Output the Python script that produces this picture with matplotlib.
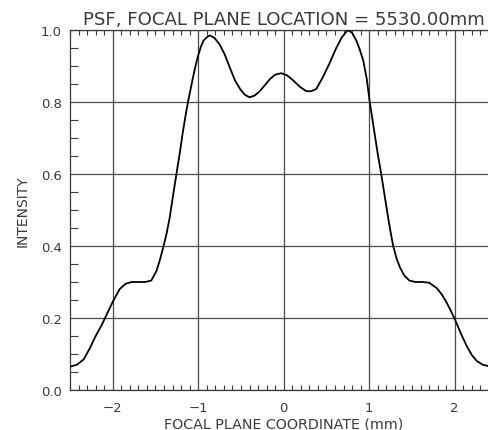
import numpy as np
import matplotlib
matplotlib.use("Agg")
from matplotlib import pyplot as plt
from matplotlib.ticker import MultipleLocator

# PSF profile across the focal plane
coord = [-2.50, -2.42, -2.34, -2.27, -2.20, -2.13, -2.06, -2.00, -1.92, -1.85,
         -1.78, -1.70, -1.62, -1.55, -1.49, -1.45, -1.41, -1.37, -1.333, -1.295,
         -1.255, -1.215, -1.178, -1.15, -1.12, -1.09, -1.06, -1.03, -1.00, -0.97,
         -0.94, -0.90, -0.866, -0.81, -0.75, -0.69, -0.63, -0.57, -0.51, -0.455,
         -0.40, -0.34, -0.28, -0.22, -0.16, -0.10, -0.03, 0.04, 0.11, 0.19,
         0.265, 0.32, 0.38, 0.46, 0.54, 0.61, 0.68, 0.75, 0.80, 0.85,
         0.89, 0.93, 0.97, 1.006, 1.035, 1.064, 1.10, 1.14, 1.18, 1.22,
         1.25, 1.28, 1.32, 1.36, 1.41, 1.47, 1.54, 1.62, 1.70, 1.79,
         1.85, 1.90, 1.95, 2.00, 2.07, 2.14, 2.20, 2.26, 2.33, 2.40,
         2.50]
intensity = [0.065, 0.070, 0.085, 0.115, 0.150, 0.180, 0.215, 0.245, 0.280, 0.295,
             0.300, 0.300, 0.300, 0.304, 0.330, 0.360, 0.396, 0.435, 0.480, 0.540,
             0.600, 0.660, 0.720, 0.760, 0.800, 0.835, 0.870, 0.902, 0.930, 0.953,
             0.970, 0.980, 0.985, 0.978, 0.960, 0.932, 0.895, 0.860, 0.836, 0.820,
             0.813, 0.818, 0.830, 0.847, 0.864, 0.876, 0.880, 0.874, 0.860, 0.842,
             0.830, 0.830, 0.836, 0.870, 0.910, 0.948, 0.980, 1.000, 0.992, 0.970,
             0.945, 0.915, 0.865, 0.800, 0.755, 0.710, 0.655, 0.600, 0.540, 0.480,
             0.438, 0.400, 0.365, 0.340, 0.318, 0.304, 0.300, 0.300, 0.298, 0.283,
             0.265, 0.245, 0.222, 0.197, 0.158, 0.122, 0.097, 0.080, 0.070, 0.066,
             0.065]

x_major = [-2, -1, 0, 1, 2]
y_major = [0.0, 0.2, 0.4, 0.6, 0.8, 1.0]
y_labels = ["0.0", "0.2", "0.4", "0.6", "0.8", "1.0"]

ink = "#3a3a3a"

fig = plt.figure(figsize=(4.89, 4.31), dpi=100)
ax = fig.add_axes([70 / 489, 40 / 431, 427.5 / 489, 360 / 431])

ax.plot(coord, intensity, color="black", linewidth=1.3, zorder=3)

ax.set_xlim(-2.5, 2.5)
ax.set_ylim(0.0, 1.0)

# major positions become full grid lines, minor ones are short ticks
ax.set_xticks(x_major)
ax.set_xticklabels(["\u22122", "\u22121", "0", "1", "2"])
ax.set_yticks(y_major)
ax.set_yticklabels(y_labels)
ax.xaxis.set_minor_locator(MultipleLocator(0.1))
ax.yaxis.set_minor_locator(MultipleLocator(0.05))
ax.grid(True, which="major", color="#4a4a4a", linewidth=0.9)

ax.tick_params(which="major", length=0, labelsize=9.5, colors=ink, pad=6)
ax.tick_params(axis="x", which="major", pad=8)
ax.tick_params(axis="x", which="minor", direction="in", length=3.5,
               width=0.8, color=ink, top=True, bottom=True)
ax.tick_params(axis="y", which="minor", direction="in", length=6,
               width=0.8, color=ink, left=True, right=False)

for side in ["left", "bottom", "top", "right"]:
    ax.spines[side].set_color(ink)
    ax.spines[side].set_linewidth(0.9)

ax.set_title("PSF, FOCAL PLANE LOCATION = 5530.00mm", fontsize=13.1,
             color=ink, pad=4.5)
ax.set_xlabel("FOCAL PLANE COORDINATE (mm)", fontsize=10.3, color=ink, labelpad=2)
ax.set_ylabel("INTENSITY", fontsize=10, color=ink, labelpad=8)

fig.savefig("out.png", dpi=100)
